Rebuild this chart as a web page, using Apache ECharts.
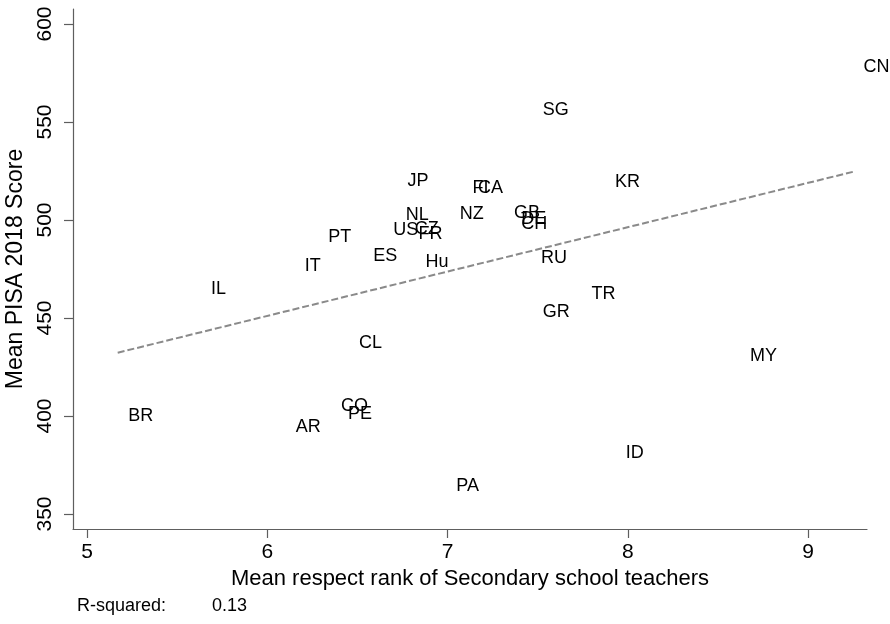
<!DOCTYPE html>
<html>
<head>
<meta charset="utf-8">
<script src="https://cdn.jsdelivr.net/npm/echarts@6/dist/echarts.min.js"></script>
<style>
  html, body { margin: 0; padding: 0; background: #fff; }
  #chart { width: 890px; height: 624px; }
</style>
</head>
<body>
<div id="chart"></div>
<script>
// Country codes and their values
const countries = ['CN','SG','JP','FI','CA','KR','NL','NZ','GB','DE','CH','US','CZ','FR','PT','ES','Hu','IT','RU','IL','TR','GR','CL','MY','BR','CO','PE','AR','ID','PA'];
// Mean respect rank of secondary school teachers
const respectRank = [9.25,7.47,6.72,7.08,7.11,7.87,6.71,7.01,7.31,7.35,7.35,6.64,6.76,6.78,6.28,6.53,6.82,6.15,7.46,5.63,7.74,7.47,6.45,8.62,5.17,6.35,6.39,6.10,7.93,6.99];
// Mean PISA 2018 score
const pisaScore = [578.1,556.1,519.9,516.3,516.3,519.5,502.6,502.8,503.5,500.4,497.8,494.9,495.3,492.7,491.3,481.6,478.6,476.5,480.6,464.8,462.2,453.0,437.2,430.6,400.0,405.3,401.0,394.4,381.1,364.3];

// Linear fit endpoints
const fitX = [5.17, 9.25];
const fitY = [432.3, 524.6];

// Axis ticks
const xTicks = [5, 6, 7, 8, 9];
const yTicks = [350, 400, 450, 500, 550, 600];
const rSquared = '0.13';

const font = '"Liberation Sans", Arial, sans-serif';
const axisColor = '#5e5e5e';

const chart = echarts.init(document.getElementById('chart'), null, { renderer: 'canvas' });

const points = countries.map((c, i) => ({ value: [respectRank[i], pisaScore[i]], name: c }));

chart.setOption({
  animation: false,
  backgroundColor: '#ffffff',
  grid: { left: 73, right: 23, top: 9, bottom: 95, containLabel: false, outerBoundsMode: 'none' },
  xAxis: {
    type: 'value',
    min: 4.922,
    max: 9.327,
    name: 'Mean respect rank of Secondary school teachers',
    nameLocation: 'middle',
    nameGap: 38,
    nameTextStyle: { fontFamily: font, fontSize: 22, color: '#000' },
    axisLine: { show: true, onZero: false, lineStyle: { color: axisColor, width: 1.2 } },
    axisTick: { show: true, customValues: xTicks, length: 9, lineStyle: { color: axisColor, width: 1.2 } },
    axisLabel: { customValues: xTicks, margin: 13, fontFamily: font, fontSize: 21, color: '#000' },
    splitLine: { show: false }
  },
  yAxis: {
    type: 'value',
    min: 342.35,
    max: 607.65,
    name: 'Mean PISA 2018 Score',
    nameLocation: 'middle',
    nameGap: 37,
    nameTextStyle: { fontFamily: font, fontSize: 23, color: '#000' },
    axisLine: { show: true, onZero: false, lineStyle: { color: axisColor, width: 1.2 } },
    axisTick: { show: true, customValues: yTicks, length: 9, lineStyle: { color: axisColor, width: 1.2 } },
    axisLabel: { customValues: yTicks, rotate: 90, margin: 17, fontFamily: font, fontSize: 21, color: '#000' },
    splitLine: { show: false }
  },
  series: [
    {
      type: 'line',
      data: fitX.map((x, i) => [x, fitY[i]]),
      symbol: 'none',
      lineStyle: { color: '#8a8a8a', width: 2, type: [7, 3] },
      z: 1
    },
    {
      type: 'scatter',
      data: points,
      symbolSize: 1,
      itemStyle: { color: 'rgba(0,0,0,0)' },
      label: {
        show: true,
        position: 'right',
        distance: 10,
        formatter: p => p.name,
        fontFamily: font,
        fontSize: 18,
        color: '#000000',
        opacity: 1
      },
      labelLayout: { hideOverlap: false },
      z: 2
    }
  ],
  graphic: [
    { type: 'text', left: 77, top: 597, style: { text: 'R-squared:', font: '18px ' + font, fill: '#000' } },
    { type: 'text', left: 212, top: 597, style: { text: rSquared, font: '18px ' + font, fill: '#000' } }
  ]
});
</script>
</body>
</html>
